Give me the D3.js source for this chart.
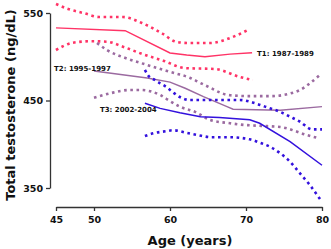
<!DOCTYPE html>
<html><head><meta charset="utf-8">
<script src="https://cdn.jsdelivr.net/npm/d3@7"></script>
<style>body{margin:0;background:#fff}svg{display:block}text{font-family:"DejaVu Sans",Verdana,sans-serif;font-weight:bold}</style>
</head><body><svg id="c" width="331" height="249"></svg>
<script>
const xTicks = [45, 50, 60, 70, 80];
const yTicks = [350, 450, 550];

const t1Age = [45, 54.1, 60, 62.2, 64.6, 67.9, 70.8];
const t1Val = [533, 529.8, 504.3, 502, 500, 503, 504.6];
const t1UpAge = [45, 46.6, 48.6, 50.8, 53.8, 56.3, 58.9, 60.9, 62.6, 65.3, 67.9, 70.5];
const t1UpVal = [560.3, 554.6, 550, 545.4, 545.4, 538.6, 527, 516.9, 515.7, 515.7, 521.4, 531.7];
const t1LoAge = [45, 47.2, 49.5, 51.7, 53.8, 56.4, 59.1, 62, 65.9, 69.2, 70.9];
const t1LoVal = [507.7, 516, 517.7, 517.2, 511.5, 503, 495.5, 487, 486, 476.9, 473.4];

const t2Age = [50, 57, 60, 62, 64.4, 67.5, 68.3, 74.5, 80];
const t2Val = [483.7, 475.7, 471, 464, 454.4, 443, 440, 439, 443];
const t2UpAge = [50.4, 51.7, 54.3, 57, 59.5, 60.7, 62.6, 64, 65.3, 66.6, 67.9, 70.5, 73.2, 75.8, 77.1, 78.4, 79.7];
const t2UpVal = [515.7, 507.7, 498, 490.6, 484, 481, 476, 470, 464.6, 459, 456, 455, 455, 458, 462, 469.6, 479];
const t2LoAge = [50, 52.1, 54.7, 56.1, 58.7, 59.5, 61.3, 63.3, 65.3, 67.9, 69.9, 72, 74.5, 78, 79.5];
const t2LoVal = [453.2, 458.2, 462, 462, 456.3, 452, 443, 437, 427.7, 424, 422, 421, 419.7, 410.6, 407];

const t3Age = [56.7, 58.7, 61.3, 64, 66.5, 70.5, 71.8, 75.8, 80];
const t3Val = [446.8, 441, 436, 431.5, 430.5, 428, 424, 403, 376];
const t3UpAge = [56.7, 57.1, 58, 58.7, 59.6, 60.3, 61.3, 62.6, 64, 65.9, 69.2, 71.2, 72.5, 74.5, 75.8, 77.1, 78.7, 80];
const t3UpVal = [485, 479, 473.4, 469.7, 465, 460, 454, 450.6, 450.6, 450.6, 450.6, 446.8, 443, 437, 431.5, 425.8, 417, 417];
const t3LoAge = [56.7, 57.8, 59.6, 60.4, 62.2, 63.6, 65.5, 67.9, 70.5, 71.8, 73.2, 74.5, 75.8, 77.1, 78.4, 80];
const t3LoVal = [409.4, 412.5, 415, 416, 413, 410.6, 408, 408, 405.6, 401.8, 397, 389.7, 380, 366.8, 353.4, 334];

const labels = ["T1: 1987-1989", "T2: 1995-1997", "T3: 2002-2004"];
const colors = ["#ff3366", "#9b6aa0", "#3311dd"];

const svg = d3.select("#c");
const x = d3.scaleLinear().domain([45, 80]).range([56, 322]);
const y = d3.scaleLinear().domain([350, 550]).range([188, 13]);

const xAxis = svg.append("g").attr("transform", "translate(0,207)")
  .call(d3.axisBottom(x).tickValues(xTicks).tickSize(4).tickSizeOuter(0));
const yAxis = svg.append("g").attr("transform", "translate(50,0)")
  .call(d3.axisLeft(y).tickValues(yTicks).tickSize(4).tickSizeOuter(0));
[xAxis, yAxis].forEach(a => {
  a.select(".domain").attr("stroke", "#333").attr("stroke-width", 1.3);
  a.selectAll(".tick line").attr("stroke", "#333").attr("stroke-width", 1.3);
  a.selectAll("text").attr("font-size", 9.5).attr("fill", "#111")
   .attr("font-family", "DejaVu Sans").attr("font-weight", "bold");
});
xAxis.selectAll("text").attr("dy", "0.9em");

const line = d3.line().x(d => x(d[0])).y(d => y(d[1]));
const zip = (a, b) => a.map((v, i) => [v, b[i]]);

const series = [
  {m: zip(t1Age, t1Val), u: zip(t1UpAge, t1UpVal), l: zip(t1LoAge, t1LoVal)},
  {m: zip(t2Age, t2Val), u: zip(t2UpAge, t2UpVal), l: zip(t2LoAge, t2LoVal)},
  {m: zip(t3Age, t3Val), u: zip(t3UpAge, t3UpVal), l: zip(t3LoAge, t3LoVal)}
];
const g = svg.append("g");
series.forEach((s, i) => {
  [s.u, s.l].forEach(d => g.append("path").attr("d", line.curve(d3.curveMonotoneX)(d))
    .attr("fill", "none").attr("stroke", colors[i]).attr("stroke-width", 2.6)
    .attr("stroke-dasharray", "2.6,3.6"));
  g.append("path").attr("d", line.curve(d3.curveLinear)(s.m))
    .attr("fill", "none").attr("stroke", colors[i]).attr("stroke-width", 1.5);
});

const lab = [[t1Age[t1Age.length-1], t1Val[t1Val.length-1], 5, 3],
             [t2Age[0], t2Val[0], -40, -0.5],
             [t3Age[0], t3Val[0], -45, 8.7]];
lab.forEach((p, i) => svg.append("text").attr("x", x(p[0]) + p[2]).attr("y", y(p[1]) + p[3])
  .attr("font-size", 7).attr("fill", "#111").text(labels[i]));

svg.append("text").attr("transform", "translate(15,105) rotate(-90)").attr("text-anchor", "middle")
  .attr("font-size", 13).attr("fill", "#111").text("Total testosterone (ng/dL)");
svg.append("text").attr("x", 190).attr("y", 245).attr("text-anchor", "middle")
  .attr("font-size", 13).attr("fill", "#111").text("Age (years)");
</script></body></html>
